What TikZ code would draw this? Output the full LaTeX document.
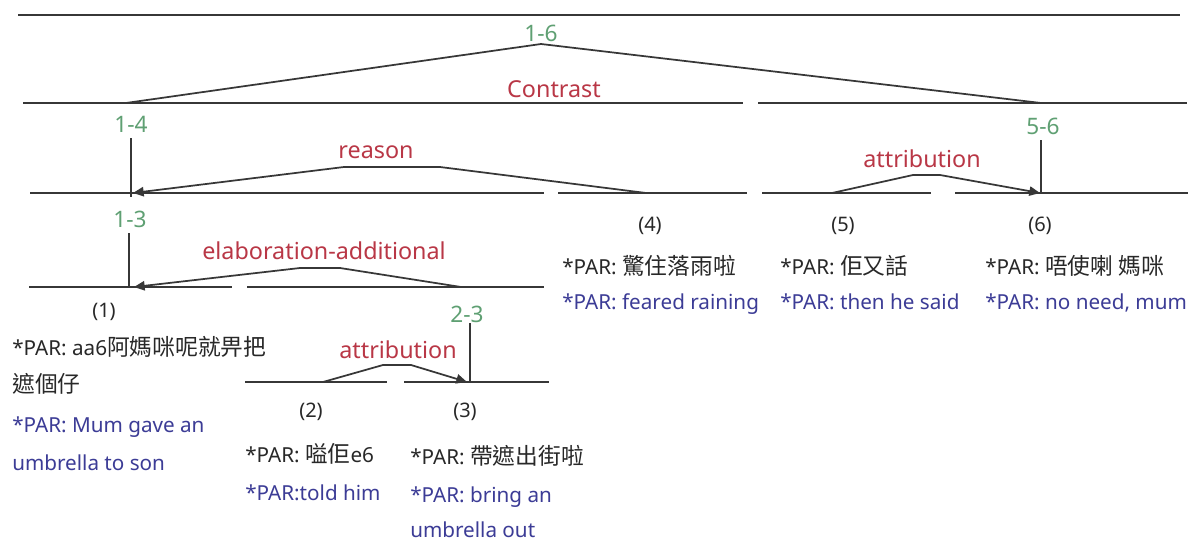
\documentclass[tikz,border=0pt]{standalone}
\usepackage{fontspec}
\setmainfont{Noto Sans}
\newfontfamily\cjk[Scale=1.1]{Noto Sans CJK TC}
\usetikzlibrary{arrows.meta}
\definecolor{lnc}{RGB}{55,55,55}
\definecolor{grn}{RGB}{95,160,115}
\definecolor{rdc}{RGB}{185,55,70}
\definecolor{blu}{RGB}{60,60,150}
\definecolor{txc}{RGB}{40,40,40}
\begin{document}
\begin{tikzpicture}[x=0.75pt,y=-0.75pt,
  base/.style={draw=lnc,line width=1.5pt},
  vert/.style={draw=lnc,line width=1.3pt},
  arc/.style={draw=lnc,line width=1.3pt},
  arcarrow/.style={arc,-{Triangle[length=8pt,width=7pt]}},
  span/.style={text=grn,font=\fontsize{17}{20}\selectfont,inner sep=0pt},
  rel/.style={text=rdc,font=\fontsize{17.5}{20}\selectfont,inner sep=0pt},
  num/.style={text=txc,font=\fontsize{15}{18}\selectfont,inner sep=0pt},
  zh/.style={text=txc,font=\fontsize{15.5}{18}\selectfont,inner sep=0pt,anchor=base west},
  en/.style={text=blu,font=\fontsize{15.5}{18}\selectfont,inner sep=0pt,anchor=base west}]
\useasboundingbox (0,0) rectangle (1192,542);
\fill[white] (0,0) rectangle (1192,542);

% baselines
\coordinate (t1) at (18,15);  \coordinate (t2) at (1180,15);
\coordinate (a1) at (23,103); \coordinate (a2) at (743,103);
\coordinate (a3) at (758,103); \coordinate (a4) at (1187,103);
\coordinate (b1) at (30,193); \coordinate (b2) at (544,193);
\coordinate (b3) at (558,193); \coordinate (b4) at (747,193);
\coordinate (b5) at (762,193); \coordinate (b6) at (931,193);
\coordinate (b7) at (955,193); \coordinate (b8) at (1188,193);
\coordinate (c1) at (29,287); \coordinate (c2) at (232,287);
\coordinate (c3) at (247,287); \coordinate (c4) at (544,287);
\coordinate (d1) at (245,382); \coordinate (d2) at (387,382);
\coordinate (d3) at (404,382); \coordinate (d4) at (549,382);
\draw[base] (t1) -- (t2);
\draw[base] (a1) -- (a2); \draw[base] (a3) -- (a4);
\draw[base] (b1) -- (b2); \draw[base] (b3) -- (b4);
\draw[base] (b5) -- (b6); \draw[base] (b7) -- (b8);
\draw[base] (c1) -- (c2); \draw[base] (c3) -- (c4);
\draw[base] (d1) -- (d2); \draw[base] (d3) -- (d4);

% 1-6 contrast
\node[span] (s16) at (541,33) {1-6};
\coordinate (apex) at (541,44);
\coordinate (l14) at (126,103);
\coordinate (l56) at (1041,103);
\draw[arc] (l14) -- (apex) -- (l56);
\node[rel] (contrast) at (554,89) {Contrast};

% 1-4 reason
\node[span] (s14) at (131,124) {1-4};
\coordinate (v14t) at (131,138); \coordinate (v14b) at (131,197);
\draw[vert] (v14t) -- (v14b);
\node[rel] (reason) at (376,152) {reason};
\coordinate (r0) at (646,193); \coordinate (r1) at (440,167);
\coordinate (r2) at (344,167); \coordinate (r3) at (133,193);
\draw[arcarrow] (r0) -- (r1) -- (r2) -- (r3);

% 5-6 attribution
\node[span] (s56) at (1043,126) {5-6};
\coordinate (v56t) at (1041,140); \coordinate (v56b) at (1041,193);
\draw[vert] (v56t) -- (v56b);
\node[rel] (attr56) at (922,159) {attribution};
\coordinate (q0) at (832,193); \coordinate (q1) at (913,175);
\coordinate (q2) at (940,175); \coordinate (q3) at (1040,193);
\draw[arcarrow] (q0) -- (q1) -- (q2) -- (q3);

% 1-3 elaboration
\node[span] (s13) at (130,219) {1-3};
\coordinate (v13t) at (129,233); \coordinate (v13b) at (129,287);
\draw[vert] (v13t) -- (v13b);
\node[rel] (elab) at (324,251) {elaboration-additional};
\coordinate (e0) at (461,287); \coordinate (e1) at (340,268);
\coordinate (e2) at (300,268); \coordinate (e3) at (134,287);
\draw[arcarrow] (e0) -- (e1) -- (e2) -- (e3);

% 2-3 attribution
\node[span] (s23) at (467,314) {2-3};
\coordinate (v23t) at (470,323); \coordinate (v23b) at (470,382);
\draw[vert] (v23t) -- (v23b);
\node[rel] (attr23) at (398,350) {attribution};
\coordinate (f0) at (323,382); \coordinate (f1) at (383,365);
\coordinate (f2) at (411,365); \coordinate (f3) at (467,382);
\draw[arcarrow] (f0) -- (f1) -- (f2) -- (f3);

% leaves
\node[num] (n1) at (104,312) {(1)};
\node[zh] (z1a) at (12,355) {*PAR: aa6{\cjk 阿媽咪呢就畀把}};
\node[zh] (z1b) at (12,392) {{\cjk 遮個仔}};
\node[en] (e1a) at (12,432) {*PAR: Mum gave an};
\node[en] (e1b) at (12,470) {umbrella to son};

\node[num] (n2) at (311,412) {(2)};
\node[zh] (z2) at (245,462) {*PAR: {\cjk 嗌佢}e6};
\node[en] (e2a) at (245,500) {*PAR:told him};

\node[num] (n3) at (465,412) {(3)};
\node[zh] (z3) at (410,464) {*PAR: {\cjk 帶遮出街啦}};
\node[en] (e3a) at (410,502) {*PAR: bring an};
\node[en] (e3b) at (410,537) {umbrella out};

\node[num] (n4) at (650,226) {(4)};
\node[zh] (z4) at (562,274) {*PAR: {\cjk 驚住落雨啦}};
\node[en] (e4) at (562,309) {*PAR: feared raining};

\node[num] (n5) at (843,226) {(5)};
\node[zh] (z5) at (780,274) {*PAR: {\cjk 佢又話}};
\node[en] (e5) at (780,309) {*PAR: then he said};

\node[num] (n6) at (1040,226) {(6)};
\node[zh] (z6) at (985,274) {*PAR: {\cjk 唔使喇} {\cjk 媽咪}};
\node[en] (e6) at (985,309) {*PAR: no need, mum};
\end{tikzpicture}
\end{document}
